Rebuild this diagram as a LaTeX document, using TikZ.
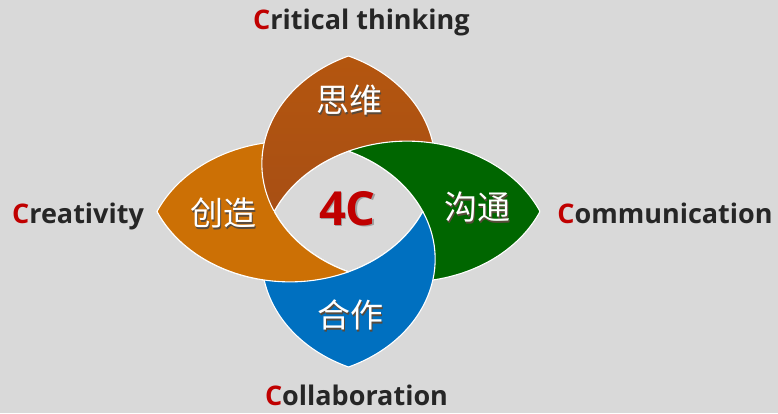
\documentclass[tikz,border=0pt]{standalone}
\usepackage{fontspec}
\setmainfont{Open Sans}
\newfontfamily\cjk{Noto Sans CJK SC}
\definecolor{bg}{HTML}{D9D9D9}
\definecolor{cbrown}{HTML}{B4560F}
\definecolor{cbrownd}{HTML}{A84F14}
\definecolor{corange}{HTML}{CC7005}
\definecolor{cgreen}{HTML}{006600}
\definecolor{cblue}{HTML}{0070C0}
\definecolor{cred}{HTML}{C00000}
\definecolor{cdark}{HTML}{262626}
\definecolor{cshadowdark}{HTML}{5A4A3A}
\definecolor{cshadowgray}{HTML}{A0A0A0}
\newcommand{\shadowtext}[3]{\makebox[0pt][l]{\kern1.5pt\raisebox{-1.5pt}{\textcolor{#1}{#3}}}\textcolor{#2}{#3}}
\begin{document}
\begin{tikzpicture}[x=1pt,y=1pt,
  petal/.style={draw=white,line width=1.1pt,line join=round},
  cjklabel/.style={font=\cjk\fontsize{33}{33}\selectfont,inner sep=0pt},
  outlabel/.style={text=cdark,font=\bfseries\fontsize{27}{27}\selectfont,inner sep=0pt,anchor=base},
  er/.style={x radius=145.25pt,y radius=117.94pt}]
\useasboundingbox (0,0) rectangle (778,413);
\fill[bg] (0,0) rectangle (778,413);
% key points
\coordinate (T) at (348.5,357);
\coordinate (Bt) at (348.5,46);
\coordinate (Lt) at (157,201.5);
\coordinate (Rt) at (540,201.5);
% orange (creativity)
\path[petal,fill=corange] (Lt) arc[start angle=203.8,end angle=293.8,er]
  arc[start angle=246.2,end angle=203.8,er]
  arc[start angle=156.2,end angle=113.8,er]
  arc[start angle=66.2,end angle=156.2,er] -- cycle;
% brown (critical thinking)
\path[petal,top color=cbrown,bottom color=cbrownd] (T) arc[start angle=113.8,end angle=203.8,er]
  arc[start angle=156.2,end angle=113.8,er]
  arc[start angle=66.2,end angle=23.8,er]
  arc[start angle=-23.8,end angle=66.2,er] -- cycle;
% green (communication)
\path[petal,fill=cgreen] (Rt) arc[start angle=23.8,end angle=113.8,er]
  arc[start angle=66.2,end angle=23.8,er]
  arc[start angle=-23.8,end angle=-66.2,er]
  arc[start angle=-113.8,end angle=-23.8,er] -- cycle;
% blue (collaboration)
\path[petal,fill=cblue] (Bt) arc[start angle=-66.2,end angle=23.8,er]
  arc[start angle=-23.8,end angle=-66.2,er]
  arc[start angle=-113.8,end angle=-156.2,er]
  arc[start angle=-203.8,end angle=-113.8,er] -- cycle;
% orange again, over blue (lower half only)
\begin{scope}
\clip (0,0) rectangle (778,201.5);
\path[petal,fill=corange] (Lt) arc[start angle=203.8,end angle=293.8,er]
  arc[start angle=246.2,end angle=203.8,er]
  arc[start angle=156.2,end angle=113.8,er]
  arc[start angle=66.2,end angle=156.2,er] -- cycle;
\end{scope}
% chinese labels
\node[cjklabel] (sw) at (349,312) {\shadowtext{cshadowdark}{white}{思维}};
\node[cjklabel] (cz) at (223,199) {\shadowtext{cshadowdark}{white}{创造}};
\node[cjklabel] (gt) at (477,205) {\shadowtext{cshadowdark}{white}{沟通}};
\node[cjklabel] (hz) at (350,97) {\shadowtext{cshadowdark}{white}{合作}};
% 4C
\node[font=\bfseries\fontsize{47}{47}\selectfont,inner sep=0pt] (fc) at (347.5,204) {\shadowtext{cshadowgray}{cred}{4C}};
% outer labels
\node[outlabel] (ct) at (361.5,383) {\textcolor{cred}{C}ritical thinking};
\node[outlabel] (cr) at (78,190) {\textcolor{cred}{C}reativity};
\node[outlabel] (cm) at (665,190) {\textcolor{cred}{C}ommunication};
\node[outlabel] (cl) at (356.5,8) {\textcolor{cred}{C}ollaboration};
\end{tikzpicture}
\end{document}
